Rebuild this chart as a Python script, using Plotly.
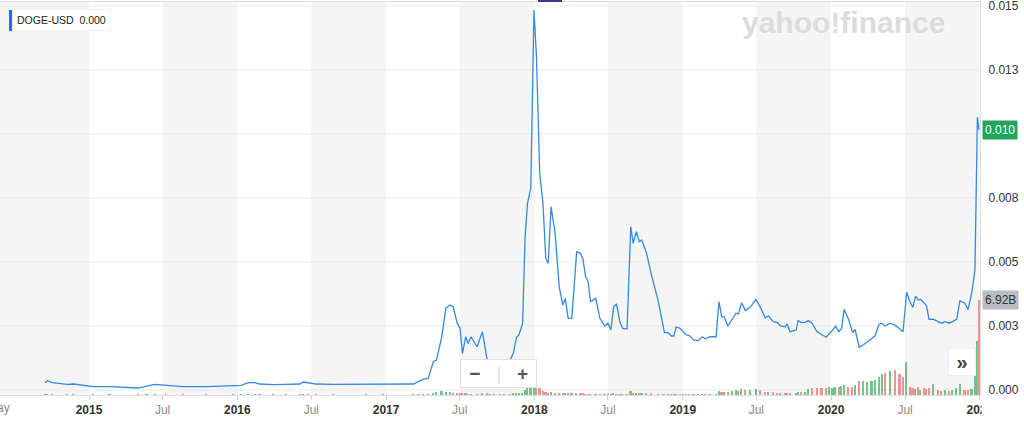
import plotly.graph_objects as go

# weekly closes
dates = [
    '2014-09-15', '2014-09-21', '2014-10-02', '2014-11-08', '2014-11-24', '2015-01-11', '2015-02-21', '2015-05-02', '2015-05-23', '2015-06-12',
    '2015-07-11', '2015-08-21', '2015-10-17', '2015-12-22', '2016-01-11', '2016-01-28', '2016-02-13', '2016-02-25', '2016-03-29', '2016-05-01',
    '2016-06-03', '2016-06-11', '2016-06-23', '2016-07-14', '2016-08-24', '2016-11-14', '2016-12-25', '2017-03-09', '2017-03-21', '2017-04-02',
    '2017-04-15', '2017-04-27', '2017-05-05', '2017-05-18', '2017-05-28', '2017-06-07', '2017-06-15', '2017-06-25', '2017-07-02', '2017-07-08',
    '2017-07-16', '2017-07-22', '2017-07-29', '2017-08-13', '2017-08-26', '2017-09-06', '2017-09-13', '2017-09-25', '2017-10-08', '2017-10-18',
    '2017-11-02', '2017-11-10', '2017-11-18', '2017-11-24', '2017-12-03', '2017-12-09', '2017-12-15', '2017-12-23', '2017-12-31', '2018-01-06',
    '2018-01-14', '2018-01-22', '2018-01-29', '2018-02-04', '2018-02-11', '2018-02-21', '2018-03-03', '2018-03-12', '2018-03-18', '2018-03-25',
    '2018-04-03', '2018-04-15', '2018-04-23', '2018-04-30', '2018-05-07', '2018-05-13', '2018-05-19', '2018-06-01', '2018-06-11', '2018-06-23',
    '2018-07-01', '2018-07-08', '2018-07-15', '2018-07-22', '2018-07-30', '2018-08-06', '2018-08-17', '2018-08-26', '2018-09-01', '2018-09-09',
    '2018-09-16', '2018-09-22', '2018-10-04', '2018-10-16', '2018-11-01', '2018-11-13', '2018-11-17', '2018-11-26', '2018-12-04', '2018-12-10',
    '2018-12-16', '2018-12-25', '2019-01-02', '2019-01-10', '2019-01-18', '2019-01-28', '2019-02-08', '2019-02-18', '2019-02-26', '2019-03-09',
    '2019-03-24', '2019-03-31', '2019-04-07', '2019-04-13', '2019-04-22', '2019-05-02', '2019-05-12', '2019-05-18', '2019-05-26', '2019-06-04',
    '2019-06-16', '2019-06-30', '2019-07-11', '2019-07-23', '2019-07-31', '2019-08-12', '2019-08-22', '2019-08-29', '2019-09-10', '2019-09-15',
    '2019-09-22', '2019-10-07', '2019-10-12', '2019-10-19', '2019-10-29', '2019-11-06', '2019-11-15', '2019-11-27', '2019-12-09', '2019-12-20',
    '2019-12-28', '2020-01-05', '2020-01-12', '2020-01-20', '2020-01-27', '2020-02-02', '2020-02-12', '2020-02-23', '2020-02-29', '2020-03-10',
    '2020-03-20', '2020-03-30', '2020-04-10', '2020-04-18', '2020-04-28', '2020-05-05', '2020-05-13', '2020-05-25', '2020-06-06', '2020-06-18',
    '2020-06-26', '2020-07-05', '2020-07-13', '2020-07-20', '2020-07-27', '2020-08-02', '2020-08-08', '2020-08-17', '2020-08-23', '2020-08-29',
    '2020-09-08', '2020-09-20', '2020-09-29', '2020-10-07', '2020-10-17', '2020-10-26', '2020-11-05', '2020-11-13', '2020-11-25', '2020-12-03',
    '2020-12-12', '2020-12-20', '2020-12-26', '2020-12-30',
]

close = [
    0.000285, 0.000363, 0.000285, 0.000223, 0.000234, 0.000129, 0.000129, 0.000078, 0.000156, 0.000223,
    0.000184, 0.000129, 0.000129, 0.000156, 0.000184, 0.000285, 0.000285, 0.000234, 0.000207, 0.000223,
    0.000234, 0.000312, 0.000273, 0.000234, 0.000223, 0.000223, 0.000223, 0.000234, 0.000324, 0.000418,
    0.000457, 0.001105, 0.00117, 0.00208, 0.00319, 0.00332, 0.00325, 0.00261, 0.00241, 0.00143,
    0.00208, 0.00182, 0.00208, 0.00169, 0.00228, 0.00124, 0.00091, 0.00111, 0.00107, 0.00102,
    0.00117, 0.00143, 0.00206, 0.00215, 0.00261, 0.00599, 0.00729, 0.00788, 0.01484, 0.01302,
    0.00846, 0.00729, 0.00514, 0.00495, 0.00716, 0.00612, 0.00403, 0.00332, 0.00358, 0.0028,
    0.0028, 0.0054, 0.00536, 0.00514, 0.00443, 0.00423, 0.00345, 0.00358, 0.0028, 0.0025,
    0.00261, 0.00234, 0.00325, 0.00336, 0.00267, 0.00241, 0.00238, 0.00638, 0.00573, 0.00618,
    0.00579, 0.00586, 0.00534, 0.00449, 0.00352, 0.00261, 0.00224, 0.00224, 0.00211, 0.00211,
    0.00247, 0.00241, 0.00228, 0.00215, 0.00212, 0.00195, 0.00193, 0.00208, 0.002, 0.00208,
    0.00208, 0.00345, 0.00286, 0.00286, 0.0025, 0.00273, 0.003, 0.00297, 0.00341, 0.0031,
    0.00323, 0.00354, 0.00323, 0.00282, 0.00289, 0.00267, 0.00263, 0.0025, 0.00247, 0.00258,
    0.00227, 0.00234, 0.00273, 0.00263, 0.00264, 0.00271, 0.00261, 0.00228, 0.00215, 0.00206,
    0.00221, 0.00234, 0.0025, 0.00228, 0.00241, 0.00315, 0.0028, 0.00224, 0.00237, 0.00167,
    0.00176, 0.00189, 0.00202, 0.00211, 0.00257, 0.00261, 0.0025, 0.00261, 0.00254, 0.00237,
    0.00228, 0.00382, 0.00345, 0.00323, 0.00367, 0.00352, 0.00354, 0.00341, 0.00328, 0.00276,
    0.00277, 0.00267, 0.00261, 0.00267, 0.00261, 0.00267, 0.00276, 0.00349, 0.00339, 0.00315,
    0.00378, 0.00469, 0.01066, 0.01016,
]

# volume in billions
volume_b = [
    0.002, 0.003, 0.002, 0.002, 0.002, 0.001, 0.001, 0.001, 0.001, 0.002,
    0.001, 0.001, 0.001, 0.001, 0.002, 0.003, 0.002, 0.002, 0.001, 0.001,
    0.002, 0.003, 0.002, 0.002, 0.001, 0.001, 0.001, 0.002, 0.004, 0.006,
    0.01, 0.15, 0.25, 0.3, 0.25, 0.2, 0.12, 0.1, 0.09, 0.12,
    0.08, 0.07, 0.07, 0.06, 0.08, 0.1, 0.07, 0.06, 0.05, 0.05,
    0.06, 0.08, 0.1, 0.09, 0.15, 0.35, 0.6, 0.75, 0.85, 0.9,
    0.5, 0.3, 0.2, 0.15, 0.2, 0.15, 0.12, 0.1, 0.1, 0.08,
    0.08, 0.15, 0.1, 0.08, 0.07, 0.07, 0.06, 0.06, 0.06, 0.05,
    0.05, 0.05, 0.08, 0.07, 0.06, 0.05, 0.05, 0.3, 0.18, 0.12,
    0.1, 0.09, 0.08, 0.08, 0.07, 0.07, 0.06, 0.06, 0.06, 0.06,
    0.07, 0.06, 0.06, 0.06, 0.06, 0.05, 0.05, 0.06, 0.06, 0.06,
    0.06, 0.3, 0.25, 0.22, 0.2, 0.3, 0.35, 0.3, 0.42, 0.38,
    0.4, 0.45, 0.35, 0.25, 0.2, 0.2, 0.18, 0.15, 0.15, 0.18,
    0.15, 0.18, 0.25, 0.22, 0.25, 0.45, 0.5, 0.5, 0.48, 0.5,
    0.55, 0.5, 0.6, 0.55, 0.65, 0.7, 0.6, 0.55, 0.75, 1.0,
    1.05, 0.95, 1.0, 1.1, 1.3, 1.5, 1.6, 1.75, 1.8, 1.5,
    1.3, 2.4, 0.6, 0.5, 0.45, 0.55, 0.4, 0.5, 0.45, 0.5,
    0.8, 0.35, 0.3, 0.4, 0.3, 0.35, 0.5, 0.8, 0.4, 0.35,
    0.45, 1.8, 3.9, 6.92,
]

tick_dates = ['2015-01-01', '2015-07-01', '2016-01-01', '2016-07-01', '2017-01-01', '2017-07-01',
              '2018-01-01', '2018-07-01', '2019-01-01', '2019-07-01', '2020-01-01', '2020-07-01', '2021-01-01']
tick_labels = ['2015', 'Jul', '2016', 'Jul', '2017', 'Jul', '2018', 'Jul', '2019', 'Jul', '2020', 'Jul', '2021']

# 0.010 sits under the green last-price tag, as in the original
price_ticks = [0, 0.0025, 0.005, 0.0075, 0.0125, 0.015]
price_labels = ['0.000', '0.003', '0.005', '0.008', '0.013', '0.015']
grid_values = [0, 0.0025, 0.005, 0.0075, 0.01, 0.0125, 0.015]

x_range = ['2014-05-27', '2021-01-01 10:00']

# plot area in px (used for placing overlays)
PW, PH, PT = 980, 393, 2
def px(x):
    return x / PW
def py(y):
    return (PT + PH - y) / PH

vol_colors = []
for i, c in enumerate(close):
    if i == 0 or c >= close[i - 1]:
        vol_colors.append('#6cc788')
    else:
        vol_colors.append('#f19393')

fig = go.Figure()

fig.add_trace(go.Bar(
    x=dates, y=[v * 1e9 for v in volume_b],
    marker=dict(color=vol_colors, line=dict(width=0)),
    width=4 * 86400000,
    yaxis='y', showlegend=False,
))

fig.add_trace(go.Scatter(
    x=dates, y=close, mode='lines',
    line=dict(color='#3589e0', width=1.3),
    yaxis='y2', showlegend=False,
))

shapes = []
# shaded bands (the stretch before 2015 is shaded too)
shapes.append(dict(type='rect', xref='x', yref='paper',
                   x0=x_range[0], x1='2015-01-01', y0=0, y1=1,
                   fillcolor='#f5f5f5', line=dict(width=0), layer='below'))
for yr in range(2015, 2021):
    shapes.append(dict(type='rect', xref='x', yref='paper',
                       x0=f'{yr}-07-01', x1=f'{yr + 1}-01-01', y0=0, y1=1,
                       fillcolor='#f5f5f5', line=dict(width=0), layer='below'))
# horizontal grid
for g in grid_values:
    shapes.append(dict(type='line', xref='paper', yref='y2', x0=0, x1=1, y0=g, y1=g,
                       line=dict(color='#ebebeb', width=1), layer='below'))
# legend colour bar
shapes.append(dict(type='rect', xref='paper', yref='paper',
                   x0=px(9), x1=px(12), y0=py(31), y1=py(10),
                   fillcolor='#1a73e8', line=dict(width=0), layer='above'))
# dark marker at top edge
shapes.append(dict(type='rect', xref='paper', yref='paper',
                   x0=px(538), x1=px(562), y0=1, y1=py(0),
                   fillcolor='#3b3a8f', line=dict(width=0), layer='above'))
# clip the last year label like the original
shapes.append(dict(type='rect', xref='paper', yref='paper',
                   x0=px(981.5), x1=px(1000), y0=py(420), y1=py(399),
                   fillcolor='white', line=dict(width=0), layer='above'))

font = 'Liberation Sans, Arial, sans-serif'

annotations = [
    dict(xref='paper', yref='paper', x=px(12), y=py(20.5), xanchor='left', yanchor='middle',
         text='DOGE-USD&nbsp;&nbsp;0.000', showarrow=False,
         font=dict(size=10.5, color='#222', family=font),
         bgcolor='white', bordercolor='#eeeeee', borderwidth=1, borderpad=4),
    dict(xref='paper', yref='paper', x=px(843), y=py(22), xanchor='center', yanchor='middle',
         text='<b>yahoo!finance</b>', showarrow=False,
         font=dict(size=30, color='#dcdcdf', family=font)),
    dict(xref='paper', yref='y2', x=1, y=close[-1], xanchor='left', yanchor='middle', xshift=2,
         text='0.010', showarrow=False, font=dict(size=12, color='white', family=font),
         bgcolor='#22a55a', borderpad=2),
    dict(xref='paper', yref='y', x=1, y=volume_b[-1] * 1e9, xanchor='left', yanchor='middle', xshift=2,
         text='6.92B', showarrow=False, font=dict(size=12, color='#333', family=font),
         bgcolor='#b9bdc4', borderpad=2),
    dict(xref='paper', yref='paper', x=px(498), y=py(373), xanchor='center', yanchor='middle',
         text="&nbsp;<b>−</b>&nbsp;&nbsp;&nbsp;<span style='color:#dddddd'>|</span>&nbsp;&nbsp;&nbsp;<b>+</b>&nbsp;",
         showarrow=False,
         font=dict(size=19, color='#555', family=font),
         bgcolor='white', bordercolor='#e2e2e2', borderwidth=1, borderpad=3),
    dict(xref='paper', yref='paper', x=px(962), y=py(362), xanchor='center', yanchor='middle',
         text='&nbsp;<b>»</b>&nbsp;', showarrow=False,
         font=dict(size=20, color='#444', family=font),
         bgcolor='white', bordercolor='#eeeeee', borderwidth=1, borderpad=2),
    dict(xref='paper', yref='paper', x=px(-2), y=py(408), xanchor='center', yanchor='middle',
         text='May', showarrow=False, font=dict(size=12, color='#888', family=font)),
]

ticktext = []
for t in tick_labels:
    if t == 'Jul':
        ticktext.append("<span style='color:#8a8a8a'>Jul</span>")
    else:
        ticktext.append(f'<b>{t}</b>')

fig.update_layout(
    width=1024, height=424,
    margin=dict(l=0, r=44, t=PT, b=29),
    paper_bgcolor='white', plot_bgcolor='white',
    font=dict(family=font, size=12, color='#333'),
    showlegend=False,
    bargap=0,
    xaxis=dict(
        type='date', range=x_range,
        tickvals=tick_dates, ticktext=ticktext,
        tickfont=dict(size=12, color='#333'),
        ticks='outside', ticklen=4, tickcolor='#d0d0d0',
        showgrid=False, showline=True, linecolor='#dddddd', mirror=True, zeroline=False,
    ),
    yaxis=dict(range=[0, 28.6e9], visible=False, showgrid=False, fixedrange=True),
    yaxis2=dict(
        overlaying='y', side='right', anchor='x',
        range=[-0.000195, 0.015156],
        tickvals=price_ticks, ticktext=price_labels,
        tickfont=dict(size=12, color='#333'),
        ticks='outside', ticklen=5, tickcolor='rgba(0,0,0,0)',
        ticklabeloverflow='allow',
        showgrid=False, zeroline=False,
        showline=True, linecolor='#dddddd',
    ),
    shapes=shapes,
    annotations=annotations,
)

# page body has a default 8px margin; drop it so the figure sits at the corner
fig.write_html('out.html', config={'displayModeBar': False},
               post_script="document.body.style.margin='0';")
